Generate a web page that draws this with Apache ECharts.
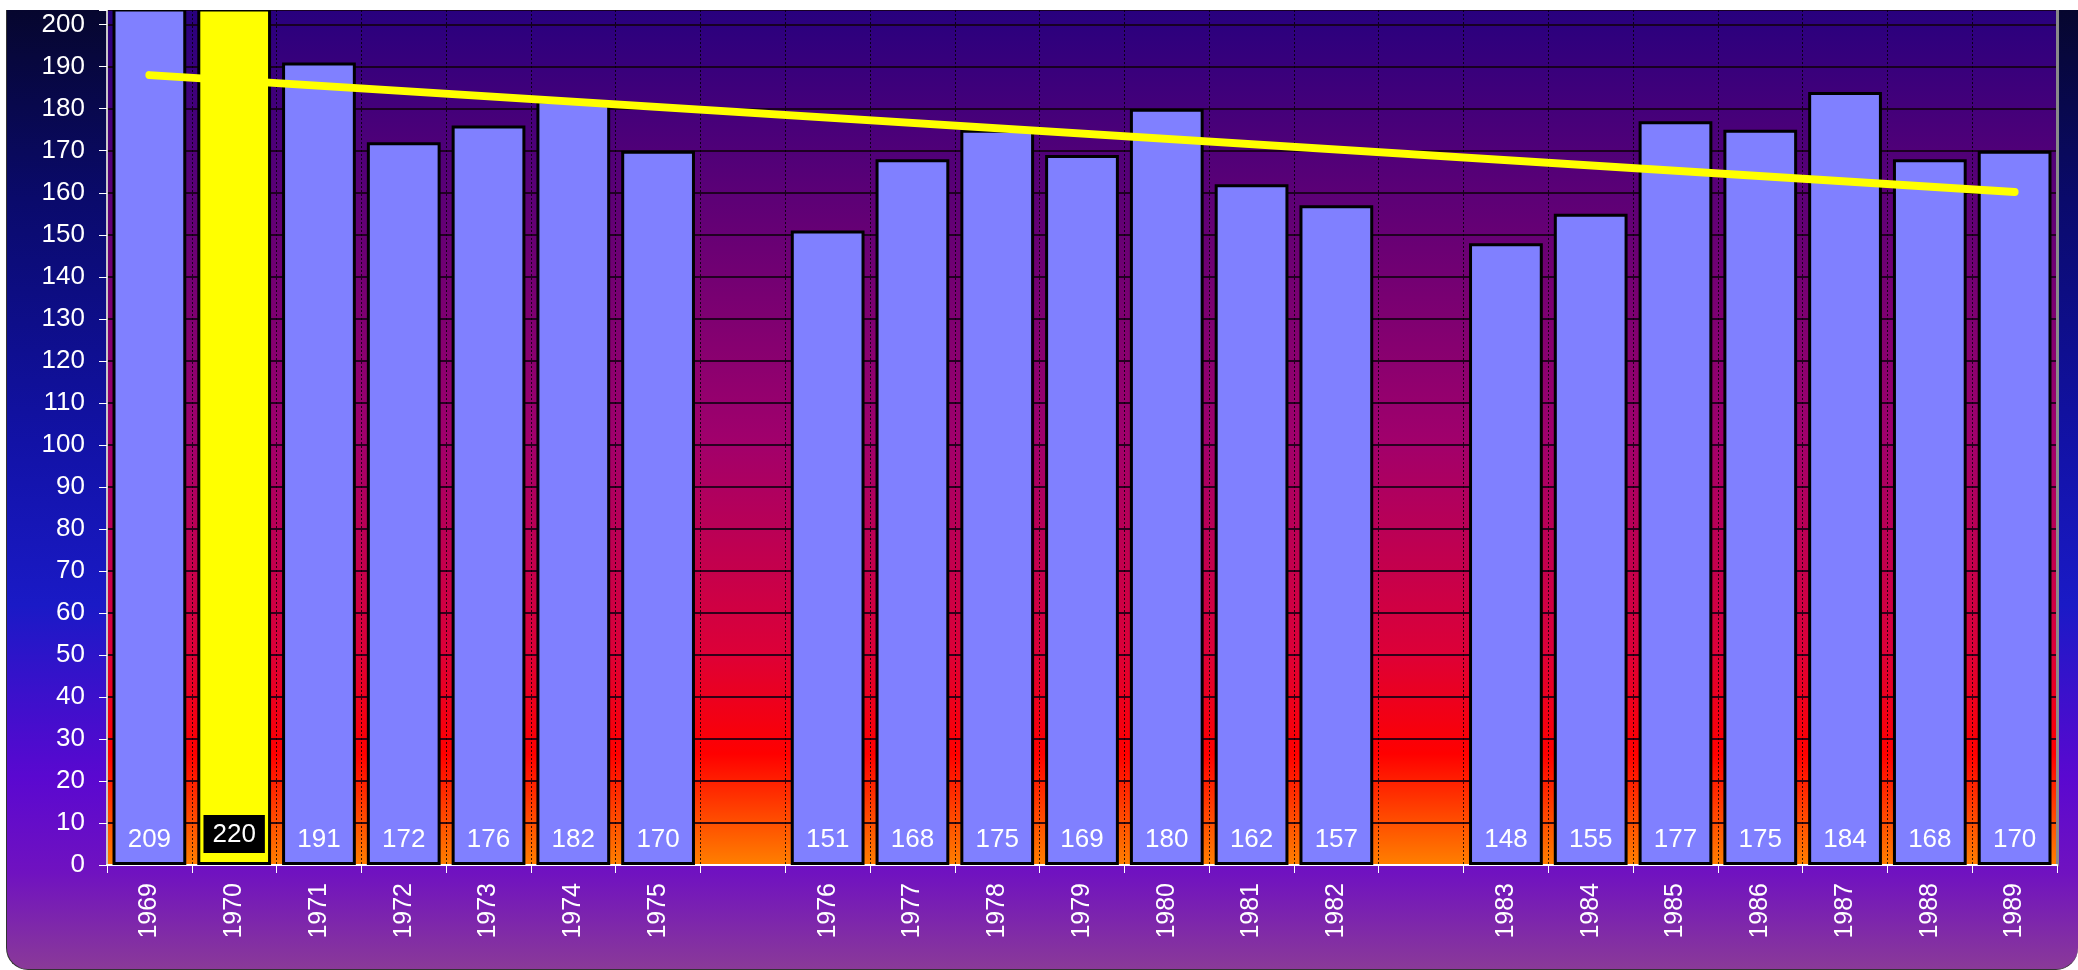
<!DOCTYPE html>
<html>
<head>
<meta charset="utf-8">
<script src="https://cdn.jsdelivr.net/npm/echarts@6/dist/echarts.min.js"></script>
<style>
  html, body { margin: 0; padding: 0; background: #fff; }
  #panel {
    position: absolute; left: 6px; top: 10px; width: 2072px; height: 960px;
    box-sizing: border-box; border-left: 1.5px solid #333; border-bottom: 1.5px solid #333;
    border-radius: 0 0 22px 22px; overflow: hidden;
    background: linear-gradient(to bottom, #06062e 0%, #0a0a6c 20%, #1212a6 45%, #1a1ac6 62%, #5a08d0 80%, #7012c0 90%, #8a3a98 100%);
  }
  #chart { position: absolute; left: -1.5px; top: 0; width: 2072px; height: 960px; }
</style>
</head>
<body>
<div id="panel"><div id="chart"></div></div>
<script>
// categories, blank slots are the gaps between the three groups
const years = ['1969', '1970', '1971', '1972', '1973', '1974', '1975', '',
  '1976', '1977', '1978', '1979', '1980', '1981', '1982', '',
  '1983', '1984', '1985', '1986', '1987', '1988', '1989']
const values = [209, 220, 191, 172, 176, 182, 170, null,
  151, 168, 175, 169, 180, 162, 157, null,
  148, 155, 177, 175, 184, 168, 170]
// trend line end points
const trendStart = 188
const trendEnd = 160.2
const highlightYear = '1970'

const chart = echarts.init(document.getElementById('chart'))
const font = 'Liberation Sans, Arial, sans-serif'

const barData = values.map((v, i) => {
  if (v === null) return null
  if (years[i] === highlightYear) {
    return {
      value: v,
      itemStyle: { color: '#ffff00' },
      label: { backgroundColor: '#000', padding: [7, 9, 5, 9] }
    }
  }
  return v
})
const trendData = years.map((y, i) => i === 0 ? trendStart : (i === years.length - 1 ? trendEnd : null))

const option = {
  backgroundColor: 'transparent',
  animation: false,
  grid: {
    left: 101,
    right: 21,
    top: 0,
    bottom: 105,
    show: true,
    borderWidth: 0,
    backgroundColor: new echarts.graphic.LinearGradient(0, 0, 0, 1, [
      { offset: 0, color: '#28007e' },
      { offset: 0.5, color: '#a0006c' },
      { offset: 0.75, color: '#dc0038' },
      { offset: 0.87, color: '#ff0000' },
      { offset: 1, color: '#ff8000' }
    ])
  },
  xAxis: {
    type: 'category',
    data: years,
    boundaryGap: true,
    axisLine: { show: true, lineStyle: { color: '#ffffff', width: 2 } },
    axisTick: { show: true, length: 8, lineStyle: { color: '#ffffff', width: 1 } },
    axisLabel: {
      rotate: 90,
      interval: 0,
      color: '#ffffff',
      fontSize: 25,
      fontFamily: font,
      margin: 18
    },
    splitLine: { show: true, interval: 0, lineStyle: { color: 'rgba(0,0,0,0.8)', width: 1, type: [2, 2] } }
  },
  yAxis: [
    {
      type: 'value',
      position: 'left',
      offset: 0,
      min: 0,
      max: 203.5,
      interval: 10,
      axisLine: { show: true, lineStyle: { color: '#c8c8c8', width: 2 } },
      axisTick: { show: true, length: 8, lineStyle: { color: '#ffffff' } },
      axisLabel: {
        color: '#ffffff',
        fontSize: 26,
        fontFamily: font,
        margin: 22,
        formatter: v => (v % 10 === 0 ? String(v) : '')
      },
      splitLine: { show: true, lineStyle: { color: 'rgba(20,0,20,0.85)', width: 2 } }
    },
    {
      type: 'value',
      position: 'right',
      offset: 0,
      min: 0,
      max: 203.5,
      interval: 10,
      axisLine: { show: true, lineStyle: { color: '#8a8a8a', width: 3 } },
      axisTick: { show: false },
      axisLabel: { show: false },
      splitLine: { show: false }
    }
  ],
  series: [
    {
      type: 'bar',
      data: barData,
      barWidth: '87%',
      clip: true,
      itemStyle: { color: '#8080ff', borderColor: '#000000', borderWidth: 3 },
      label: {
        show: true,
        position: 'insideBottom',
        distance: 12,
        color: '#ffffff',
        fontSize: 26,
        fontFamily: font
      }
    },
    {
      type: 'line',
      data: trendData,
      connectNulls: true,
      symbol: 'none',
      z: 5,
      lineStyle: { color: '#ffff00', width: 8, cap: 'round' }
    }
  ]
}
chart.setOption(option)
</script>
</body>
</html>
